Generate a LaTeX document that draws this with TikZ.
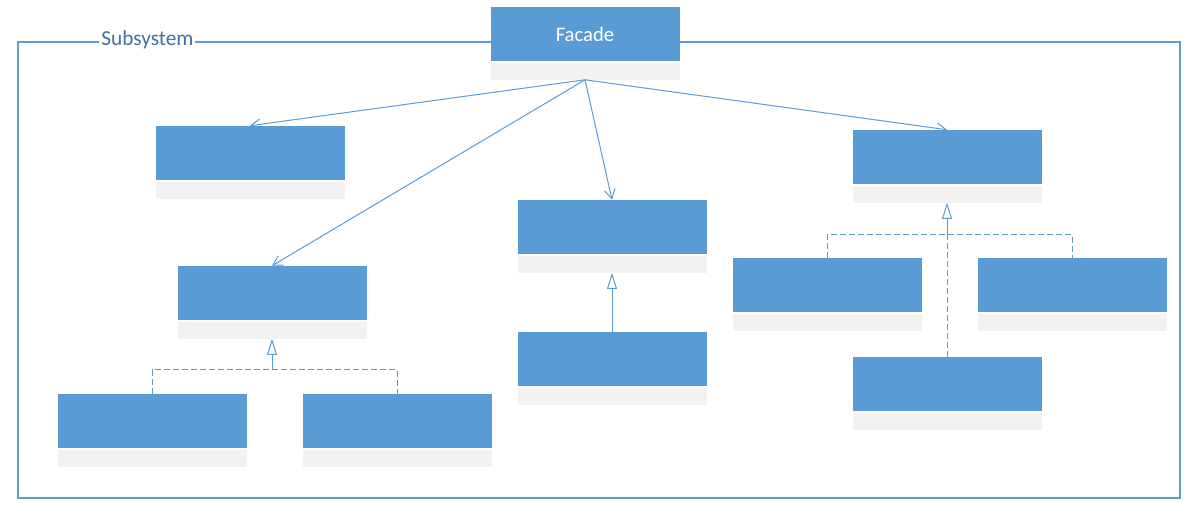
\documentclass[tikz,border=0pt]{standalone}
\usepackage{fontspec}
\setmainfont{Carlito}
\usetikzlibrary{positioning,arrows.meta}
\definecolor{clsblue}{HTML}{5B9BD5}
\definecolor{clsgrey}{HTML}{F2F2F2}
\definecolor{lblblue}{HTML}{41719C}
\tikzset{
  cls/.style={fill=clsblue,minimum width=141.75pt,minimum height=40.5pt,inner sep=0pt,text=white,font=\fontsize{15.5}{18}\selectfont},
  clsfoot/.style={fill=clsgrey,minimum width=141.75pt,minimum height=12.75pt,inner sep=0pt,below=0.75pt of #1},
  assoc/.style={draw=clsblue,line width=0.75pt,-{Straight Barb[length=7pt,width=8pt]}},
  gen/.style={draw=clsblue,line width=0.75pt,-{Triangle[open,length=12pt,width=7.5pt,fill=white]}},
  impl/.style={draw=clsblue,line width=0.75pt,dash pattern=on 4.5pt off 2.25pt}
}
\begin{document}
\begin{tikzpicture}[x=0.75pt,y=-0.75pt]
  \useasboundingbox[fill=white] (0,0) rectangle (1202,516);
  % subsystem frame
  \draw[clsblue,line width=1.1pt] (18,42) rectangle (1180,498);
  \node[fill=white,text=lblblue,inner xsep=1.5pt,inner ysep=1pt,anchor=base west,font=\fontsize{16}{18}\selectfont] (subsys) at (99,46) {Subsystem};
  % classes
  \node[cls] (facade) at (585,34) {Facade};
  \node[clsfoot=facade] (facade-f) {};
  \node[cls] (compA) at (250,153) {};
  \node[clsfoot=compA] (compA-f) {};
  \node[cls] (compB) at (272,293) {};
  \node[clsfoot=compB] (compB-f) {};
  \node[cls] (implB1) at (152,421) {};
  \node[clsfoot=implB1] (implB1-f) {};
  \node[cls] (implB2) at (397,421) {};
  \node[clsfoot=implB2] (implB2-f) {};
  \node[cls] (compC) at (612,227) {};
  \node[clsfoot=compC] (compC-f) {};
  \node[cls] (subC) at (612,359) {};
  \node[clsfoot=subC] (subC-f) {};
  \node[cls] (compD) at (947,157) {};
  \node[clsfoot=compD] (compD-f) {};
  \node[cls] (implD1) at (827,285) {};
  \node[clsfoot=implD1] (implD1-f) {};
  \node[cls] (implD2) at (1072,285) {};
  \node[clsfoot=implD2] (implD2-f) {};
  \node[cls] (implD3) at (947,384) {};
  \node[clsfoot=implD3] (implD3-f) {};
  % facade uses
  \draw[assoc] (facade-f.south) -- (compA.north);
  \draw[assoc] (facade-f.south) -- (compB.north);
  \draw[assoc] (facade-f.south) -- (compC.north);
  \draw[assoc] (facade-f.south) -- (compD.north);
  % inheritance
  \draw[gen] (subC.north) -- (compC-f.south);
  \coordinate (jB) at (272,370);
  \draw[impl] (implB1.north) -- ++(0,-24) -| (implB2.north);
  \draw[gen] (jB) -- (compB-f.south);
  \coordinate (jD) at (947,235);
  \draw[impl] (implD1.north) -- ++(0,-23) -| (implD2.north);
  \draw[impl] (implD3.north) -- (jD);
  \draw[gen] (jD) -- (compD-f.south);
\end{tikzpicture}
\end{document}
